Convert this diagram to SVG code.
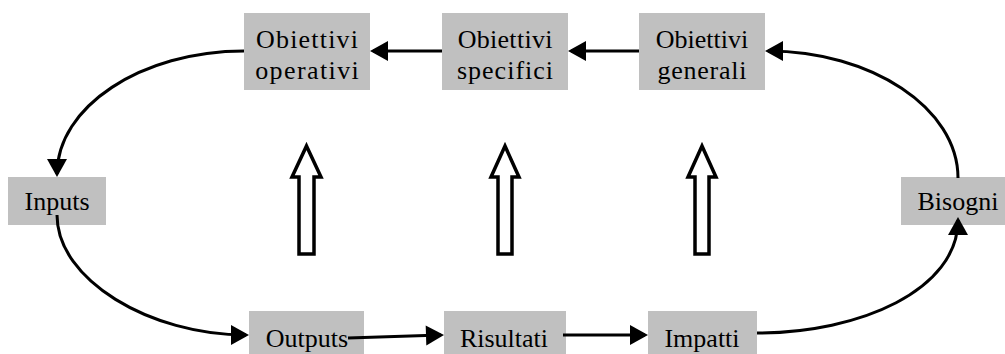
<svg xmlns="http://www.w3.org/2000/svg" width="1005" height="354" viewBox="0 0 1005 354">
<style>
  .box { fill: #c0c0c0; }
  .lbl { font-family: "Liberation Serif", "Times New Roman", serif; font-size: 26px; fill: #000; text-anchor: middle; }
  .conn { fill: none; stroke: #000; stroke-width: 3; }
  .block { fill: #fff; stroke: #000; stroke-width: 3.5; stroke-linejoin: miter; }
</style>
<defs>
  <marker id="ah" markerUnits="userSpaceOnUse" markerWidth="18" markerHeight="20" refX="15" refY="10" orient="auto" overflow="visible">
    <path d="M0,0 L18,10 L0,20 Z" fill="#000"/>
  </marker>
</defs>
<rect width="1005" height="354" fill="#fff"/>

<g id="n-operativi">
  <rect class="box" x="244" y="13" width="126" height="77"/>
  <text class="lbl" x="307.6" y="48" letter-spacing="1.2">Obiettivi</text>
  <text class="lbl" x="307.7" y="79" letter-spacing="1.4">operativi</text>
</g>
<g id="n-specifici">
  <rect class="box" x="442" y="13" width="126" height="77"/>
  <text class="lbl" x="505.2" y="48" letter-spacing="0.3">Obiettivi</text>
  <text class="lbl" x="505.5" y="79" letter-spacing="1">specifici</text>
</g>
<g id="n-generali">
  <rect class="box" x="639" y="13" width="126" height="77"/>
  <text class="lbl" x="702" y="48">Obiettivi</text>
  <text class="lbl" x="702.4" y="79" letter-spacing="0.75">generali</text>
</g>
<g id="n-inputs">
  <rect class="box" x="8" y="177" width="98" height="48"/>
  <text class="lbl" x="57" y="210">Inputs</text>
</g>
<g id="n-bisogni">
  <rect class="box" x="901" y="177" width="104" height="48"/>
  <text class="lbl" x="958" y="210">Bisogni</text>
</g>
<g id="n-outputs">
  <rect class="box" x="249" y="311" width="115" height="43"/>
  <text class="lbl" x="307" y="347">Outputs</text>
</g>
<g id="n-risultati">
  <rect class="box" x="444" y="311" width="122" height="43"/>
  <text class="lbl" x="504" y="347">Risultati</text>
</g>
<g id="n-impatti">
  <rect class="box" x="648" y="311" width="109" height="43"/>
  <text class="lbl" x="702" y="347">Impatti</text>
</g>

<g id="block-arrows">
  <polygon class="block" points="306.5,146 321,177 314,177 314,254 299,254 299,177 292,177"/>
  <polygon class="block" points="505,146 519,177 512,177 512,254 498,254 498,177 491,177"/>
  <polygon class="block" points="702,146 716,177 709,177 709,254 695,254 695,177 688,177"/>
</g>

<g id="connectors">
  <path class="conn" d="M442,51 L373,51" marker-end="url(#ah)"/>
  <path class="conn" d="M639,51 L571,51" marker-end="url(#ah)"/>
  <path class="conn" d="M244,51 C141,51 57,107 57,174" marker-end="url(#ah)"/>
  <path class="conn" d="M57,215 C57,280 150,335 246,335" marker-end="url(#ah)"/>
  <path class="conn" d="M348,338 L441,335" marker-end="url(#ah)"/>
  <path class="conn" d="M563,335 L645,335" marker-end="url(#ah)"/>
  <path class="conn" d="M757,333 C860,333 958,290 958,220" marker-end="url(#ah)"/>
  <path class="conn" d="M958,178 C958,108 871,51 768,51" marker-end="url(#ah)"/>
</g>
</svg>
